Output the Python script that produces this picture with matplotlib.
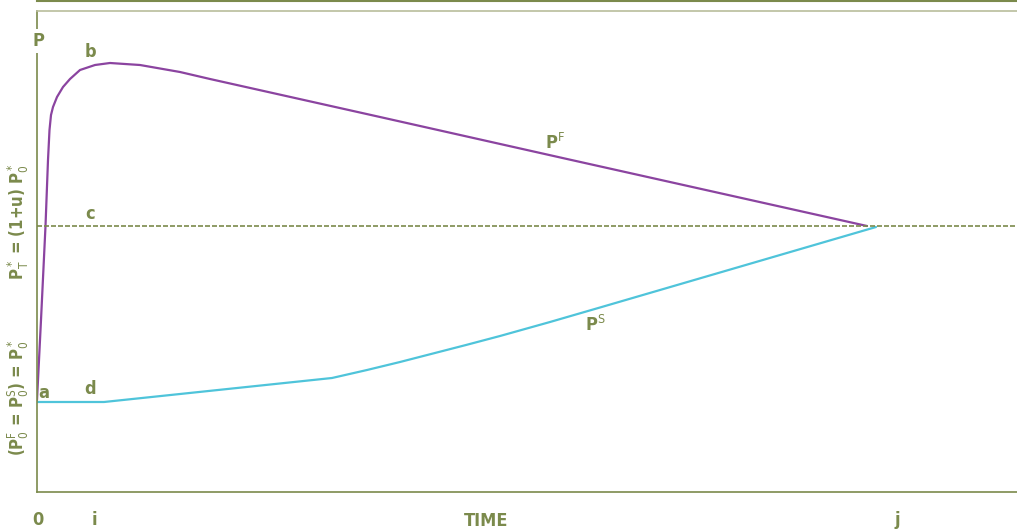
import matplotlib
matplotlib.use('Agg')
import matplotlib.pyplot as plt
from matplotlib.lines import Line2D

# Price paths (time units, price units)
time_f = [0, 4, 8.5, 11, 12.5, 14, 16, 20, 26, 33, 43, 58, 73, 103, 143, 173, 343, 530, 830]
price_f = [92, 172, 266, 332, 362, 377, 385, 395, 405, 413, 422, 427, 429, 427, 420, 413, 375, 333, 266]

time_s = [0, 67, 295, 330, 363, 396, 429, 463, 513, 563, 839]
price_s = [90, 90, 114, 122, 130, 138.5, 147, 156, 170, 184.5, 265]

target_price = 266

label_color = '#7b8a4c'
purple = '#8b44a0'
cyan = '#4fc4da'

plt.rcParams['font.family'] = ['DejaVu Sans']
plt.rcParams['font.stretch'] = 'condensed'
plt.rcParams['mathtext.fontset'] = 'custom'
plt.rcParams['mathtext.rm'] = 'DejaVu Sans'
plt.rcParams['mathtext.bf'] = 'DejaVu Sans:bold'

fig = plt.figure(figsize=(10.17, 5.31), dpi=100)
ax = fig.add_axes([37 / 1017, 39 / 531, 980 / 1017, 481 / 531])
ax.set_xlim(0, 980)
ax.set_ylim(0, 481)

ax.plot(time_f, price_f, color=purple, lw=1.6, solid_capstyle='round')
ax.plot(time_s, price_s, color=cyan, lw=1.6, solid_capstyle='round')
ax.axhline(target_price, color=label_color, lw=1.2, ls=(0, (3, 1.2)))

ax.spines['right'].set_visible(False)
ax.spines['top'].set_color('#b9bd9c')
ax.spines['left'].set_color(label_color)
ax.spines['bottom'].set_color(label_color)
for s in ['top', 'left', 'bottom']:
    ax.spines[s].set_linewidth(1.2)
ax.set_xticks([])
ax.set_yticks([])

# thin rule at the very top of the figure
fig.add_artist(Line2D([37 / 1017, 1], [0.999, 0.999], color=label_color, lw=1.5))

tkw = dict(color=label_color, fontsize=13, fontweight='semibold')
ax.text(1, 451, 'P', ha='center', va='center', clip_on=False,
        bbox=dict(facecolor='white', edgecolor='none', pad=2), **tkw)
ax.text(53, 440, 'b', ha='center', va='center', **tkw)
ax.text(53, 278, 'c', ha='center', va='center', **tkw)
ax.text(7, 99, 'a', ha='center', va='center', **tkw)
ax.text(53, 103, 'd', ha='center', va='center', **tkw)
ax.text(518, 349, r'P$^{\mathrm{F}}$', ha='center', va='center', **tkw)
ax.text(558, 167, r'P$^{\mathrm{S}}$', ha='center', va='center', **tkw)

ax.text(1, -28, '0', ha='center', va='center', clip_on=False, **tkw)
ax.text(57, -28, 'i', ha='center', va='center', clip_on=False, **tkw)
ax.text(449, -29, 'TIME', ha='center', va='center', clip_on=False, **tkw)
ax.text(860, -28, 'j', ha='center', va='center', clip_on=False, **tkw)

ykw = dict(color=label_color, fontsize=12, fontweight='semibold')
ax.text(-19, 270, r'P$^*_{\mathrm{T}}$ = (1+u) P$^*_0$', rotation=90,
        ha='center', va='center', clip_on=False, **ykw)
ax.text(-19, 94, r'(P$^{\mathrm{F}}_0$ = P$^{\mathrm{S}}_0$) = P$^*_0$', rotation=90,
        ha='center', va='center', clip_on=False, **ykw)

fig.savefig('out.png', dpi=100)
